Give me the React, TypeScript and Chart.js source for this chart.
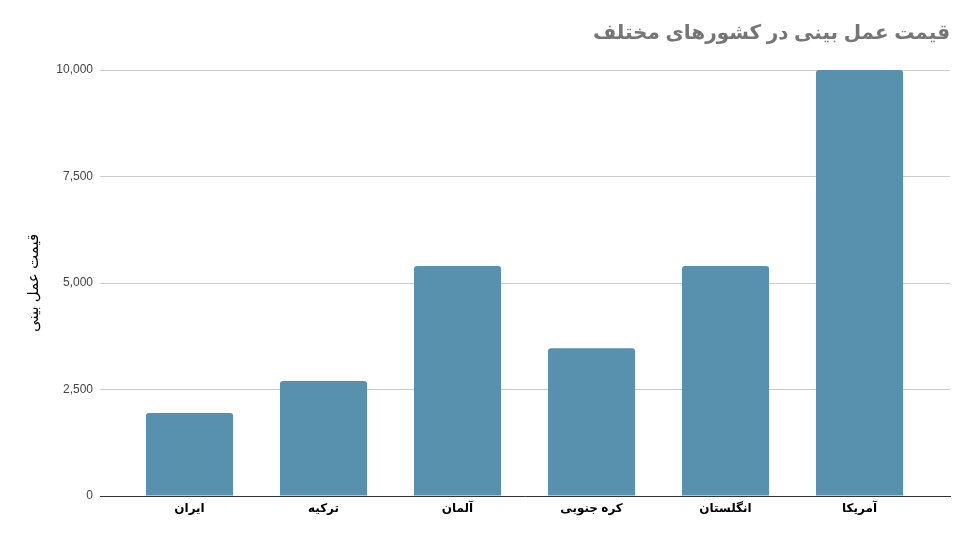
import React, { useEffect, useRef } from "react";
import Chart from "chart.js/auto";

const chartTitle = "قیمت عمل بینی در کشورهای مختلف";
const yAxisTitle = "قیمت عمل بینی";
const categories = ["ایران", "ترکیه", "آلمان", "کره جنوبی", "انگلستان", "آمریکا"];
const prices = [1950, 2700, 5400, 3470, 5400, 10000];
const yTicks = [0, 2500, 5000, 7500, 10000];

const FONT = "Arial, 'Liberation Sans', 'DejaVu Sans', sans-serif";

const App: React.FC = () => {
  const canvasRef = useRef<HTMLCanvasElement>(null);
  const chartInstance = useRef<Chart | null>(null);

  useEffect(() => {
    if (!canvasRef.current) return;
    const ctx = canvasRef.current.getContext("2d");
    if (!ctx) return;

    if (chartInstance.current) {
      chartInstance.current.destroy();
    }

    chartInstance.current = new Chart(ctx, {
      type: "bar",
      data: {
        datasets: [
          {
            label: yAxisTitle,
            data: prices.map((v, i) => ({ x: i, y: v })),
            backgroundColor: "#5891ad",
            borderRadius: 3,
            borderWidth: 0,
            barPercentage: 1,
            categoryPercentage: 0.65,
          },
        ],
      },
      options: {
        animation: false,
        responsive: true,
        maintainAspectRatio: false,
        layout: { padding: { left: 0, right: 27, top: 0, bottom: 0 } },
        plugins: {
          legend: { display: false },
          tooltip: { enabled: false },
          title: {
            display: true,
            text: chartTitle,
            align: "end",
            color: "#757575",
            font: { family: FONT, size: 20, weight: "bold" },
            padding: { top: 21, bottom: 25 },
          },
        },
        scales: {
          x: {
            type: "linear",
            offset: false,
            min: -0.668,
            max: 5.675,
            grid: { display: false, drawTicks: false },
            border: { display: true, color: "#333333", width: 1 },
            afterBuildTicks: (scale: any) => {
              scale.ticks = categories.map((_, i) => ({ value: i }));
            },
            afterFit: (scale: any) => {
              scale.height = 45;
            },
            ticks: {
              autoSkip: false,
              maxRotation: 0,
              padding: 5,
              color: "#000000",
              font: { family: FONT, size: 12, weight: "bold" },
              callback: (value: any) => categories[value as number] ?? "",
            },
          },
          y: {
            min: 0,
            max: 10000,
            afterBuildTicks: (scale: any) => {
              scale.ticks = yTicks.map((v) => ({ value: v }));
            },
            afterFit: (scale: any) => {
              scale.width = 100;
            },
            grid: { color: "#cccccc", drawTicks: false },
            border: { display: false },
            ticks: {
              padding: 7,
              color: "#444444",
              font: { family: FONT, size: 12 },
              callback: (value: any) => Number(value).toLocaleString("en-US"),
            },
            title: {
              display: true,
              text: yAxisTitle,
              color: "#000000",
              font: { family: FONT, size: 15 },
              padding: { top: 25, bottom: 0 },
            },
          },
        },
      },
    });

    return () => {
      if (chartInstance.current) {
        chartInstance.current.destroy();
        chartInstance.current = null;
      }
    };
  }, []);

  return (
    <div
      style={{
        position: "fixed",
        left: 0,
        top: 0,
        width: 977,
        height: 541,
        background: "#ffffff",
      }}
    >
      <canvas ref={canvasRef}></canvas>
    </div>
  );
};

export default App;
